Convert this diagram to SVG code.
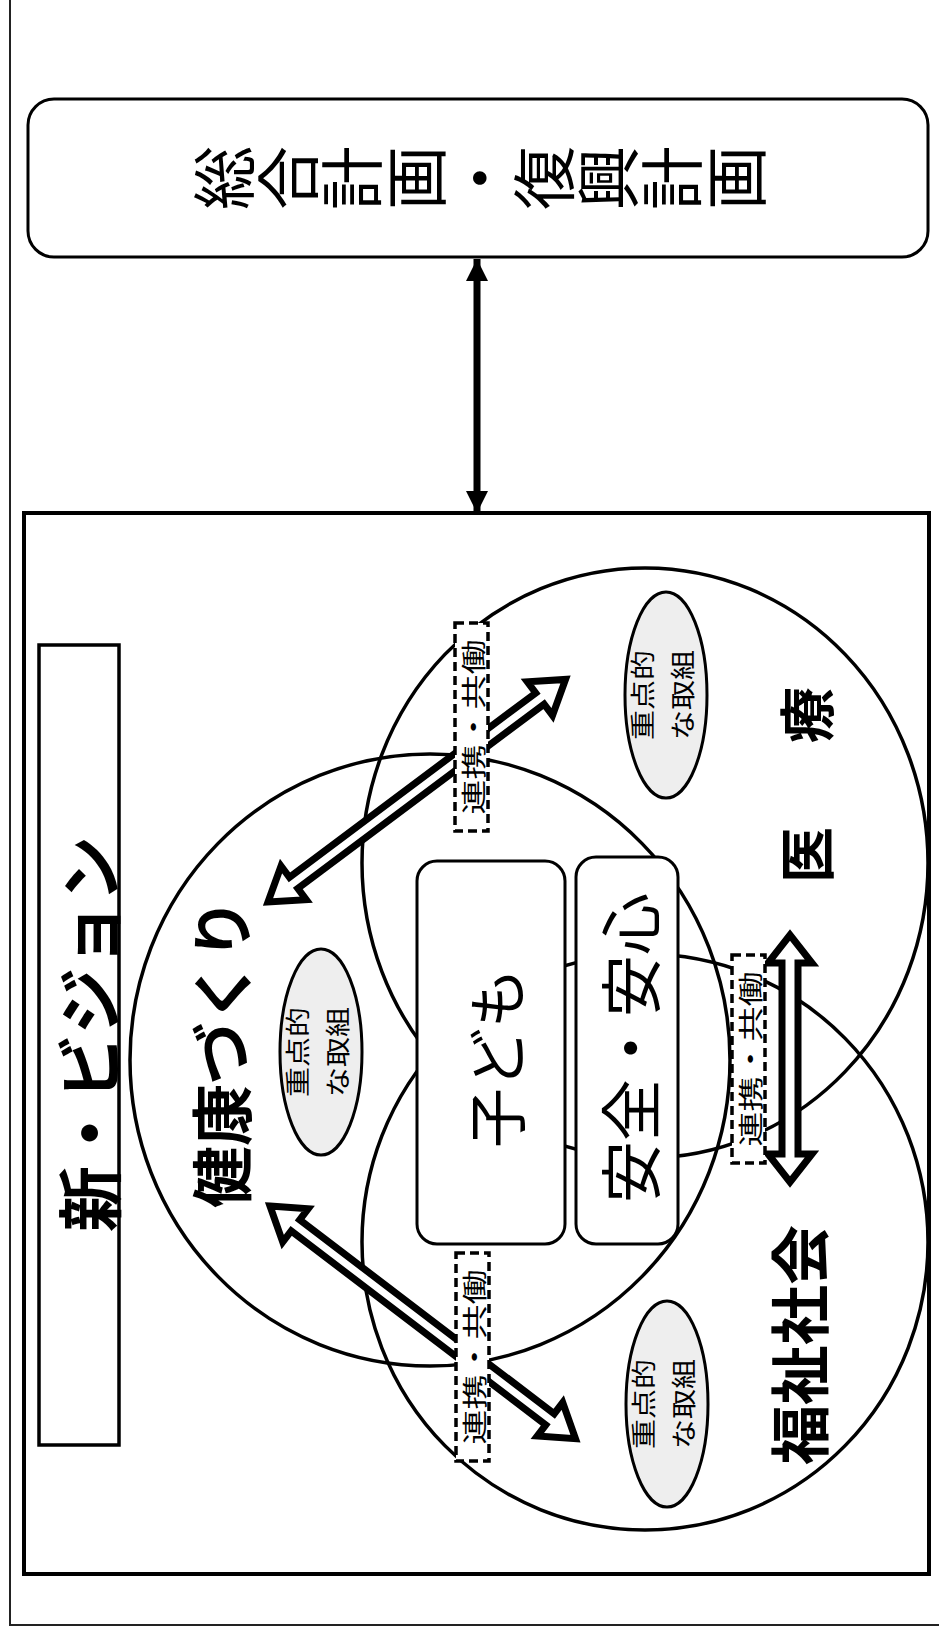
<svg xmlns="http://www.w3.org/2000/svg" width="939" height="1634" viewBox="0 0 939 1634">
<defs>
<style>
.ln{fill:none;stroke:#000;stroke-width:3.5}
.box{fill:#fff;stroke:#000;stroke-width:3}
.oval{fill:#eeeeee;stroke:#000;stroke-width:3}
.barrow{fill:#fff;stroke:#000;stroke-width:7;stroke-linejoin:miter}
.lab{fill:#fff;stroke:#000;stroke-width:3.5;stroke-dasharray:9 5}
text{font-family:"Noto Sans CJK JP","Noto Sans",sans-serif;fill:#000}
.rt{text-anchor:middle;dominant-baseline:central}
.bd{font-weight:bold}
</style>
<marker id="ah" viewBox="0 0 10 10" refX="10" refY="5" markerWidth="3.2" markerHeight="3.2" orient="auto-start-reverse" markerUnits="strokeWidth">
<path d="M0,0 L10,5 L0,10 Z" fill="#000"/>
</marker>
</defs>
<rect x="10" y="-10" width="940" height="1635" fill="#fff" stroke="#222" stroke-width="2"/>

<g id="plan">
<rect x="28" y="99" width="900" height="158" rx="26" class="box"/>
<text class="rt" transform="translate(480,178) rotate(-90)" style="writing-mode:vertical-rl" font-size="64" x="0" y="0">総合計画・復興計画</text>
</g>

<g id="vision-frame">
<rect x="24" y="513" width="905" height="1061" fill="none" stroke="#000" stroke-width="4"/>
</g>

<g id="vision-title">
<rect x="39" y="645" width="80" height="800" fill="none" stroke="#000" stroke-width="3.5"/>
<text class="rt bd" transform="translate(86,1034) rotate(-90)" font-size="66">新・ビジョン</text>
</g>

<g id="circle-kenko"><ellipse cx="430" cy="1060" rx="300" ry="306" class="ln"/></g>
<g id="circle-iryo"><ellipse cx="645" cy="863" rx="283" ry="295" class="ln"/></g>
<g id="circle-fukushi"><ellipse cx="645" cy="1242" rx="283" ry="288" class="ln"/></g>

<g id="connectors">
<line x1="477" y1="259" x2="477" y2="513" stroke="#000" stroke-width="7" marker-start="url(#ah)" marker-end="url(#ah)"/>
<polygon class="barrow" transform="translate(268,902) rotate(-36.8)" points="0,0 32,-21 32,-7 339.6,-7 339.6,-21 371.6,0 339.6,21 339.6,7 32,7 32,21"/>
<polygon class="barrow" transform="translate(270,1206) rotate(37.3)" points="0,0 32,-21 32,-7 352,-7 352,-21 384,0 352,21 352,7 32,7 32,21"/>
<polygon class="barrow" transform="translate(790,935) rotate(90)" points="0,0 28,-22 28,-8 219,-8 219,-22 247,0 219,22 219,8 28,8 28,22"/>
</g>

<g id="kenko-label"><text class="rt bd" transform="translate(219,1053) rotate(-90)" font-size="62">健康づくり</text></g>
<g id="iryo-label"><text class="rt bd" transform="translate(803,778) rotate(-90)" font-size="56" letter-spacing="14">医　療</text></g>
<g id="fukushi-label"><text class="rt bd" transform="translate(796,1345) rotate(-90)" font-size="60">福祉社会</text></g>

<g id="juten-kenko">
<ellipse cx="321" cy="1052" rx="41" ry="103" class="oval"/>
<text class="rt" transform="translate(316,1052) rotate(-90) scale(1.2,1)" font-size="25"><tspan x="0" y="-20">重点的</tspan><tspan x="0" y="20">な取組</tspan></text>
</g>
<g id="juten-iryo">
<ellipse cx="666" cy="695" rx="41" ry="103" class="oval"/>
<text class="rt" transform="translate(661,695) rotate(-90) scale(1.2,1)" font-size="25"><tspan x="0" y="-20">重点的</tspan><tspan x="0" y="20">な取組</tspan></text>
</g>
<g id="juten-fukushi">
<ellipse cx="667" cy="1404" rx="41" ry="103" class="oval"/>
<text class="rt" transform="translate(662,1404) rotate(-90) scale(1.2,1)" font-size="25"><tspan x="0" y="-20">重点的</tspan><tspan x="0" y="20">な取組</tspan></text>
</g>

<g id="kodomo">
<rect x="417" y="861" width="148" height="383" rx="20" class="box"/>
<text class="rt" transform="translate(493,1058) rotate(-90)" font-size="60">子ども</text>
</g>
<g id="anzen">
<rect x="576" y="857" width="102" height="387" rx="20" class="box"/>
<text class="rt" transform="translate(628,1048) rotate(-90)" font-size="62">安全・安心</text>
</g>

<g id="renkei-1">
<rect x="455" y="623" width="33" height="208" class="lab"/>
<text class="rt" transform="translate(472,727) rotate(-90) scale(1.4,1)" font-size="25">連携・共働</text>
</g>
<g id="renkei-2">
<rect x="732" y="955" width="33" height="208" class="lab"/>
<text class="rt" transform="translate(749,1059) rotate(-90) scale(1.4,1)" font-size="25">連携・共働</text>
</g>
<g id="renkei-3">
<rect x="456" y="1253" width="33" height="208" class="lab"/>
<text class="rt" transform="translate(473,1357) rotate(-90) scale(1.4,1)" font-size="25">連携・共働</text>
</g>
</svg>
